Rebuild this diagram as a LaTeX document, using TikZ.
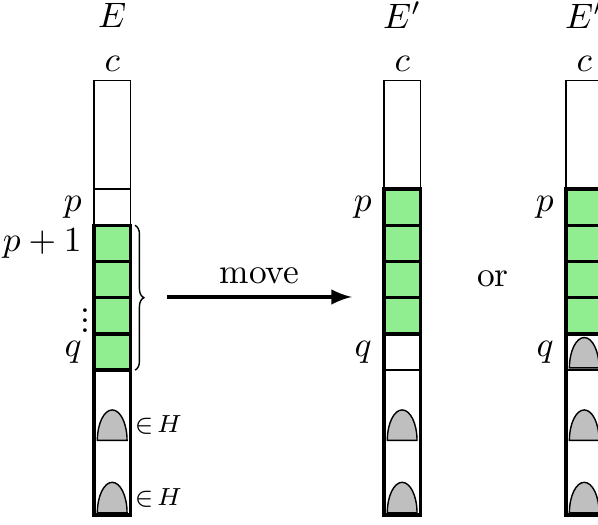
\documentclass[tikz,border=0pt]{standalone}
\usetikzlibrary{decorations.pathreplacing}
\definecolor{cellgreen}{RGB}{144,238,144}
\definecolor{humpgray}{RGB}{191,191,191}
\begin{document}
\begin{tikzpicture}[x=0.36cm,y=0.36cm,
        thickbox/.style={line width=1pt},
        greencell/.style={fill=cellgreen,draw=black,line width=1pt},
        hump/.style={fill=humpgray,draw=black},
        memb/.style={anchor=west,inner sep=1pt,font=\scriptsize}]
        \useasboundingbox (0,-0.276) rectangle (16.52,14.224);
        \clip (0,-0.276) rectangle (16.52,14.224);

        % column E
        \draw (2.6,9) rectangle (3.6,12);
        \draw (2.6,8) rectangle (3.6,9);
        \draw[greencell] (2.6,7) rectangle (3.6,8);
        \draw[greencell] (2.6,6) rectangle (3.6,7);
        \draw[greencell] (2.6,5) rectangle (3.6,6);
        \draw[greencell] (2.6,4) rectangle (3.6,5);
        \draw[hump] (2.69,2.06) arc[start angle=180,end angle=0,x radius=0.41,y radius=0.84] -- cycle;
        \draw[hump] (2.69,0.06) arc[start angle=180,end angle=0,x radius=0.41,y radius=0.84] -- cycle;
        \draw[thickbox] (2.6,0) rectangle (3.6,8);
        \node (nameE) at (3.1,13.8) {$E$};
        \node (topE) at (3.1,12.45) {$c$};
        \node[left] (pE) at (2.6,8.5) {$p$};
        \node[left] (pplusE) at (2.6,7.5) {$p+1$};
        \node[anchor=east,inner sep=1pt] (dotsE) at (2.6,5.36)
            {\vbox{\baselineskip=2.8pt\lineskiplimit=0pt\hbox{.}\hbox{.}\hbox{.}}};
        \node[left] (qE) at (2.6,4.5) {$q$};
        \node[memb] (inHa) at (3.6,2.48) {$\in\!H$};
        \node[memb] (inHb) at (3.6,0.48) {$\in\!H$};
        \draw[decorate,decoration={brace,amplitude=2.5pt}] (3.73,8) -- (3.73,4);

        % move
        \coordinate (movestart) at (4.61,6.02);
        \coordinate (moveend) at (9.72,6.02);
        \draw[-latex,line width=1pt] (movestart) -- node[above] (movelab) {move} (moveend);

        % column E'
        \draw (10.61,9) rectangle (11.61,12);
        \draw[greencell] (10.61,8) rectangle (11.61,9);
        \draw[greencell] (10.61,7) rectangle (11.61,8);
        \draw[greencell] (10.61,6) rectangle (11.61,7);
        \draw[greencell] (10.61,5) rectangle (11.61,6);
        \draw (10.61,4) -- (11.61,4);
        \draw[hump] (10.70,2.06) arc[start angle=180,end angle=0,x radius=0.41,y radius=0.84] -- cycle;
        \draw[hump] (10.70,0.06) arc[start angle=180,end angle=0,x radius=0.41,y radius=0.84] -- cycle;
        \draw[thickbox] (10.61,0) rectangle (11.61,9);
        \node (nameEp) at (11.11,13.8) {$E'$};
        \node (topEp) at (11.11,12.45) {$c$};
        \node[left] (pEp) at (10.61,8.5) {$p$};
        \node[left] (qEp) at (10.61,4.5) {$q$};

        \node (orlab) at (13.62,6.53) {or};

        % column E''
        \draw (15.64,9) rectangle (16.64,12);
        \draw[greencell] (15.64,8) rectangle (16.64,9);
        \draw[greencell] (15.64,7) rectangle (16.64,8);
        \draw[greencell] (15.64,6) rectangle (16.64,7);
        \draw[greencell] (15.64,5) rectangle (16.64,6);
        \draw (15.64,4) -- (16.64,4);
        \draw[hump] (15.73,4.06) arc[start angle=180,end angle=0,x radius=0.41,y radius=0.84] -- cycle;
        \draw[hump] (15.73,2.06) arc[start angle=180,end angle=0,x radius=0.41,y radius=0.84] -- cycle;
        \draw[hump] (15.73,0.06) arc[start angle=180,end angle=0,x radius=0.41,y radius=0.84] -- cycle;
        \draw[thickbox] (15.64,0) rectangle (16.64,9);
        \node (nameEpp) at (16.25,13.8) {$E''$};
        \node (topEpp) at (16.14,12.45) {$c$};
        \node[left] (pEpp) at (15.64,8.5) {$p$};
        \node[left] (qEpp) at (15.64,4.5) {$q$};
\end{tikzpicture}
\end{document}
